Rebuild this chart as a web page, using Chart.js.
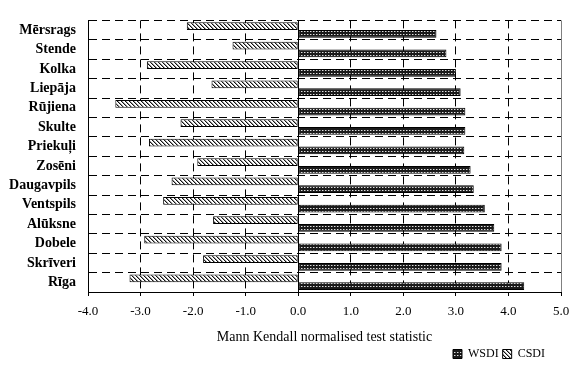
<!DOCTYPE html>
<html>
<head>
<meta charset="utf-8">
<script src="https://cdn.jsdelivr.net/npm/chart.js@4"></script>
<style>
  html, body { margin: 0; padding: 0; background: #fff; }
</style>
</head>
<body>
<canvas id="chart" width="571" height="365"></canvas>
<script>
// Data
const stations = ['Mērsrags', 'Stende', 'Kolka', 'Liepāja', 'Rūjiena', 'Skulte', 'Priekuļi',
    'Zosēni', 'Daugavpils', 'Ventspils', 'Alūksne', 'Dobele', 'Skrīveri', 'Rīga'];
const wsdi = [2.63, 2.82, 3.00, 3.09, 3.18, 3.18, 3.16, 3.28, 3.34, 3.55, 3.73, 3.87, 3.87, 4.30];
const csdi = [-2.12, -1.25, -2.88, -1.65, -3.48, -2.24, -2.84, -1.92, -2.41, -2.57, -1.62, -2.93, -1.81, -3.21];
const xMin = -4;
const xMax = 5;
const xStep = 1;

const serif = 'Liberation Serif';

// fill patterns
function makePattern(w, h, draw) {
    const c = document.createElement('canvas');
    c.width = w;
    c.height = h;
    const g = c.getContext('2d');
    draw(g);
    return g.createPattern(c, 'repeat');
}

// dark with small light dots
const wsdiFill = makePattern(3, 3, g => {
    g.fillStyle = '#1a1a1a';
    g.fillRect(0, 0, 3, 3);
    g.fillStyle = '#e0e0e0';
    g.fillRect(1, 1, 1, 1);
    g.fillStyle = '#777';
    g.fillRect(2, 1, 1, 1);
});

// diagonal hatch
const csdiFill = makePattern(4, 4, g => {
    g.fillStyle = '#fff';
    g.fillRect(0, 0, 4, 4);
    for (let i = 0; i < 4; i++) {
        g.fillStyle = '#111';
        g.fillRect(i, i, 1, 1);
        g.fillStyle = '#999';
        g.fillRect((i + 1) % 4, i, 1, 1);
    }
});

// pull the legend in a bit from the right edge
const legendShift = {
    id: 'legendShift',
    afterLayout(chart) {
        chart.legend.right -= 12;
    },
};

const ctx = document.getElementById('chart').getContext('2d');

new Chart(ctx, {
    type: 'bar',
    data: {
        labels: stations,
        datasets: [
            {
                label: 'CSDI',
                data: csdi,
                backgroundColor: csdiFill,
                borderColor: '#000',
                borderWidth: 1,
                borderSkipped: false,
            },
            {
                label: 'WSDI',
                data: wsdi,
                backgroundColor: wsdiFill,
                borderColor: '#000',
                borderWidth: 1,
                borderSkipped: false,
            },
        ],
    },
    plugins: [legendShift],
    options: {
        indexAxis: 'y',
        responsive: false,
        animation: false,
        layout: {
            padding: { top: 14, right: 10, left: 0, bottom: -5 },
        },
        datasets: {
            bar: {
                categoryPercentage: 0.8,
                barPercentage: 1.0,
            },
        },
        scales: {
            x: {
                min: xMin,
                max: xMax,
                ticks: {
                    stepSize: xStep,
                    color: '#000',
                    padding: 8,
                    font: { family: serif, size: 13 },
                    callback: v => v.toFixed(1),
                },
                grid: {
                    color: c => (c.tick && c.tick.value === xMax ? '#808080' : '#000'),
                    tickColor: '#000',
                    tickLength: 4,
                },
                border: {
                    color: '#000',
                    dash: c => (c.tick && (c.tick.value === 0 || c.tick.value === xMax) ? [] : [8, 5]),
                },
                title: {
                    display: true,
                    text: 'Mann Kendall normalised test statistic',
                    color: '#000',
                    font: { family: serif, size: 14, lineHeight: 1 },
                    padding: { top: 0, bottom: 0 },
                },
                afterFit: scale => {
                    scale.height = 52;
                    scale.paddingRight = 0;
                },
            },
            y: {
                ticks: {
                    color: '#000',
                    padding: 12,
                    autoSkip: false,
                    font: { family: serif, size: 14, weight: 'bold' },
                },
                grid: {
                    color: '#000',
                    drawTicks: false,
                },
                border: {
                    color: '#000',
                    dash: [8, 5],
                },
                afterFit: scale => { scale.width = 88; },
            },
        },
        plugins: {
            legend: {
                position: 'bottom',
                align: 'end',
                reverse: true,
                labels: {
                    color: '#000',
                    boxWidth: 9,
                    boxHeight: 9,
                    padding: 4,
                    font: { family: serif, size: 12 },
                },
            },
            tooltip: { enabled: false },
        },
    },
});
</script>
</body>
</html>
